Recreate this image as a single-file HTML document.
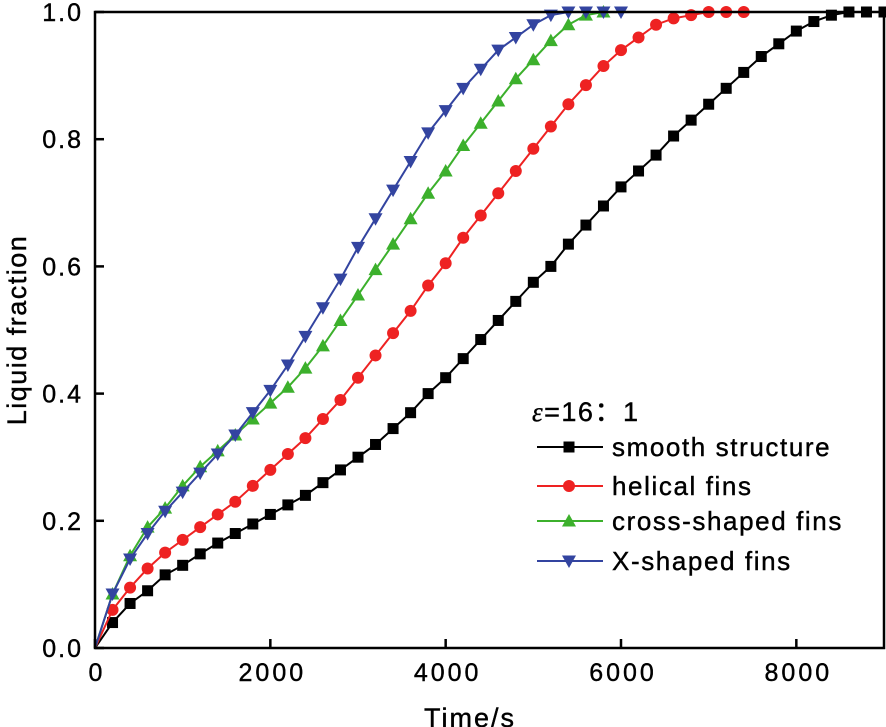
<!DOCTYPE html>
<html><head><meta charset="utf-8"><style>
body{margin:0;background:#fff;}
svg{display:block;font-family:"Liberation Sans","Noto Sans CJK SC",sans-serif;}
text{stroke:#000;stroke-width:0.4px;}
</style></head><body>
<svg id="chart" width="886" height="727" viewBox="0 0 886 727"></svg>
<script>
const times = [];
for (let t = 0; t <= 9000; t += 200) times.push(t);
const smoothVals = [0,0.04,0.07,0.09,0.115,0.13,0.148,0.165,0.18,0.195,0.21,0.225,0.24,0.26,0.28,0.30,0.32,0.345,0.37,0.40,0.425,0.455,0.485,0.515,0.545,0.575,0.60,0.635,0.665,0.695,0.725,0.75,0.775,0.805,0.83,0.855,0.88,0.905,0.93,0.95,0.97,0.985,0.995,1,1,1];
const helicalVals = [0,0.06,0.095,0.125,0.15,0.17,0.19,0.21,0.23,0.255,0.28,0.305,0.33,0.36,0.39,0.425,0.46,0.495,0.53,0.57,0.605,0.645,0.68,0.715,0.75,0.785,0.82,0.855,0.885,0.915,0.94,0.96,0.98,0.99,0.995,1,1,1];
const crossVals = [0,0.085,0.145,0.19,0.22,0.255,0.285,0.31,0.335,0.36,0.385,0.41,0.44,0.475,0.515,0.555,0.595,0.635,0.675,0.715,0.75,0.79,0.825,0.86,0.895,0.925,0.955,0.98,0.995,1];
const xShapedVals = [0,0.085,0.14,0.18,0.215,0.245,0.275,0.305,0.335,0.37,0.405,0.445,0.49,0.535,0.58,0.63,0.675,0.72,0.765,0.81,0.845,0.88,0.91,0.94,0.96,0.98,0.995,1,1,1,1];
const xTicks = [0,2000,4000,6000,8000];
const yTicks = [0,0.2,0.4,0.6,0.8,1.0];
const seriesNames = ["smooth structure","helical fins","cross-shaped fins","X-shaped fins"];

const L=95,R=884,T=12,B=648;
const xS=v=>L+(v/9000)*(R-L);
const yS=v=>B-v*(B-T);
const svg=document.getElementById('chart');
const NS='http://www.w3.org/2000/svg';
function mk(tag,attrs,parent){const e=document.createElementNS(NS,tag);for(const k in attrs)e.setAttribute(k,attrs[k]);(parent||svg).appendChild(e);return e;}

const series=[
 {vals:smoothVals,color:'#000',marker:'square',name:'smooth-structure'},
 {vals:helicalVals,color:'#ee2222',marker:'circle',name:'helical-fins'},
 {vals:crossVals,color:'#3cb02c',marker:'up',name:'cross-shaped-fins'},
 {vals:xShapedVals,color:'#3344a0',marker:'down',name:'x-shaped-fins'}
];
function marker(g,type,cx,cy,color){
 let e;
 if(type==='square')e=mk('rect',{x:cx-5.5,y:cy-5.5,width:11,height:11,fill:color},g);
 else if(type==='circle')e=mk('circle',{cx:cx,cy:cy,r:6,fill:color},g);
 else if(type==='up')e=mk('polygon',{points:`${cx-7},${cy+5.5} ${cx+7},${cy+5.5} ${cx},${cy-7}`,fill:color},g);
 else e=mk('polygon',{points:`${cx-7},${cy-5.5} ${cx+7},${cy-5.5} ${cx},${cy+7}`,fill:color},g);
 return e;
}
series.forEach(s=>{
 const g=mk('g',{});
 
 
 const pts=s.vals.map((v,i)=>xS(times[i])+','+yS(v)).join(' ');
 mk('polyline',{points:pts,fill:'none',stroke:s.color,'stroke-width':2},g);
 s.vals.forEach((v,i)=>{if(i===0)return;const m=marker(g,s.marker,xS(times[i]),yS(v),s.color);
  
  });
});

const frame=mk('rect',{x:L,y:T,width:R-L,height:B-T,fill:'none',stroke:'#000','stroke-width':2.5});


xTicks.forEach(t=>{
 mk('line',{x1:xS(t),x2:xS(t),y1:B,y2:B-9,stroke:'#000','stroke-width':2.5});
 const tx=mk('text',{x:xS(t)+2,y:B+33,'font-size':25,'letter-spacing':3,'text-anchor':'middle'});tx.textContent=t;
 
 
});
yTicks.forEach(t=>{
 mk('line',{x1:L,x2:L+9,y1:yS(t),y2:yS(t),stroke:'#000','stroke-width':2.5});
 const tx=mk('text',{x:L-12,y:yS(t)+9,'font-size':25,'letter-spacing':2,'text-anchor':'end'});tx.textContent=t.toFixed(1);
 
 
});
const xt=mk('text',{x:470,y:727,'font-size':27,'letter-spacing':2,'text-anchor':'middle'});xt.textContent='Time/s';


const yt=mk('text',{x:0,y:0,'font-size':27,'letter-spacing':1.5,'text-anchor':'middle',transform:`translate(26,${(T+B)/2}) rotate(-90)`});yt.textContent='Liquid fraction';



const lg=mk('g',{});


const lt=mk('text',{x:532,y:421,'font-size':27,'letter-spacing':1.5},lg);lt.innerHTML='<tspan font-style="italic" font-family="Liberation Serif">ε</tspan>=16：1';


const rowsY=[447,486,521,561];
series.forEach((s,i)=>{
 const y=rowsY[i];
 const eg=mk('g',{},lg);
 
 
 mk('line',{x1:537,x2:603,y1:y,y2:y,stroke:s.color,'stroke-width':2},eg);
 marker(eg,s.marker,569,y,s.color);
 const t=mk('text',{x:612,y:y+9,'font-size':26,'letter-spacing':1.6},eg);t.textContent=seriesNames[i];
});
</script>
</body></html>
